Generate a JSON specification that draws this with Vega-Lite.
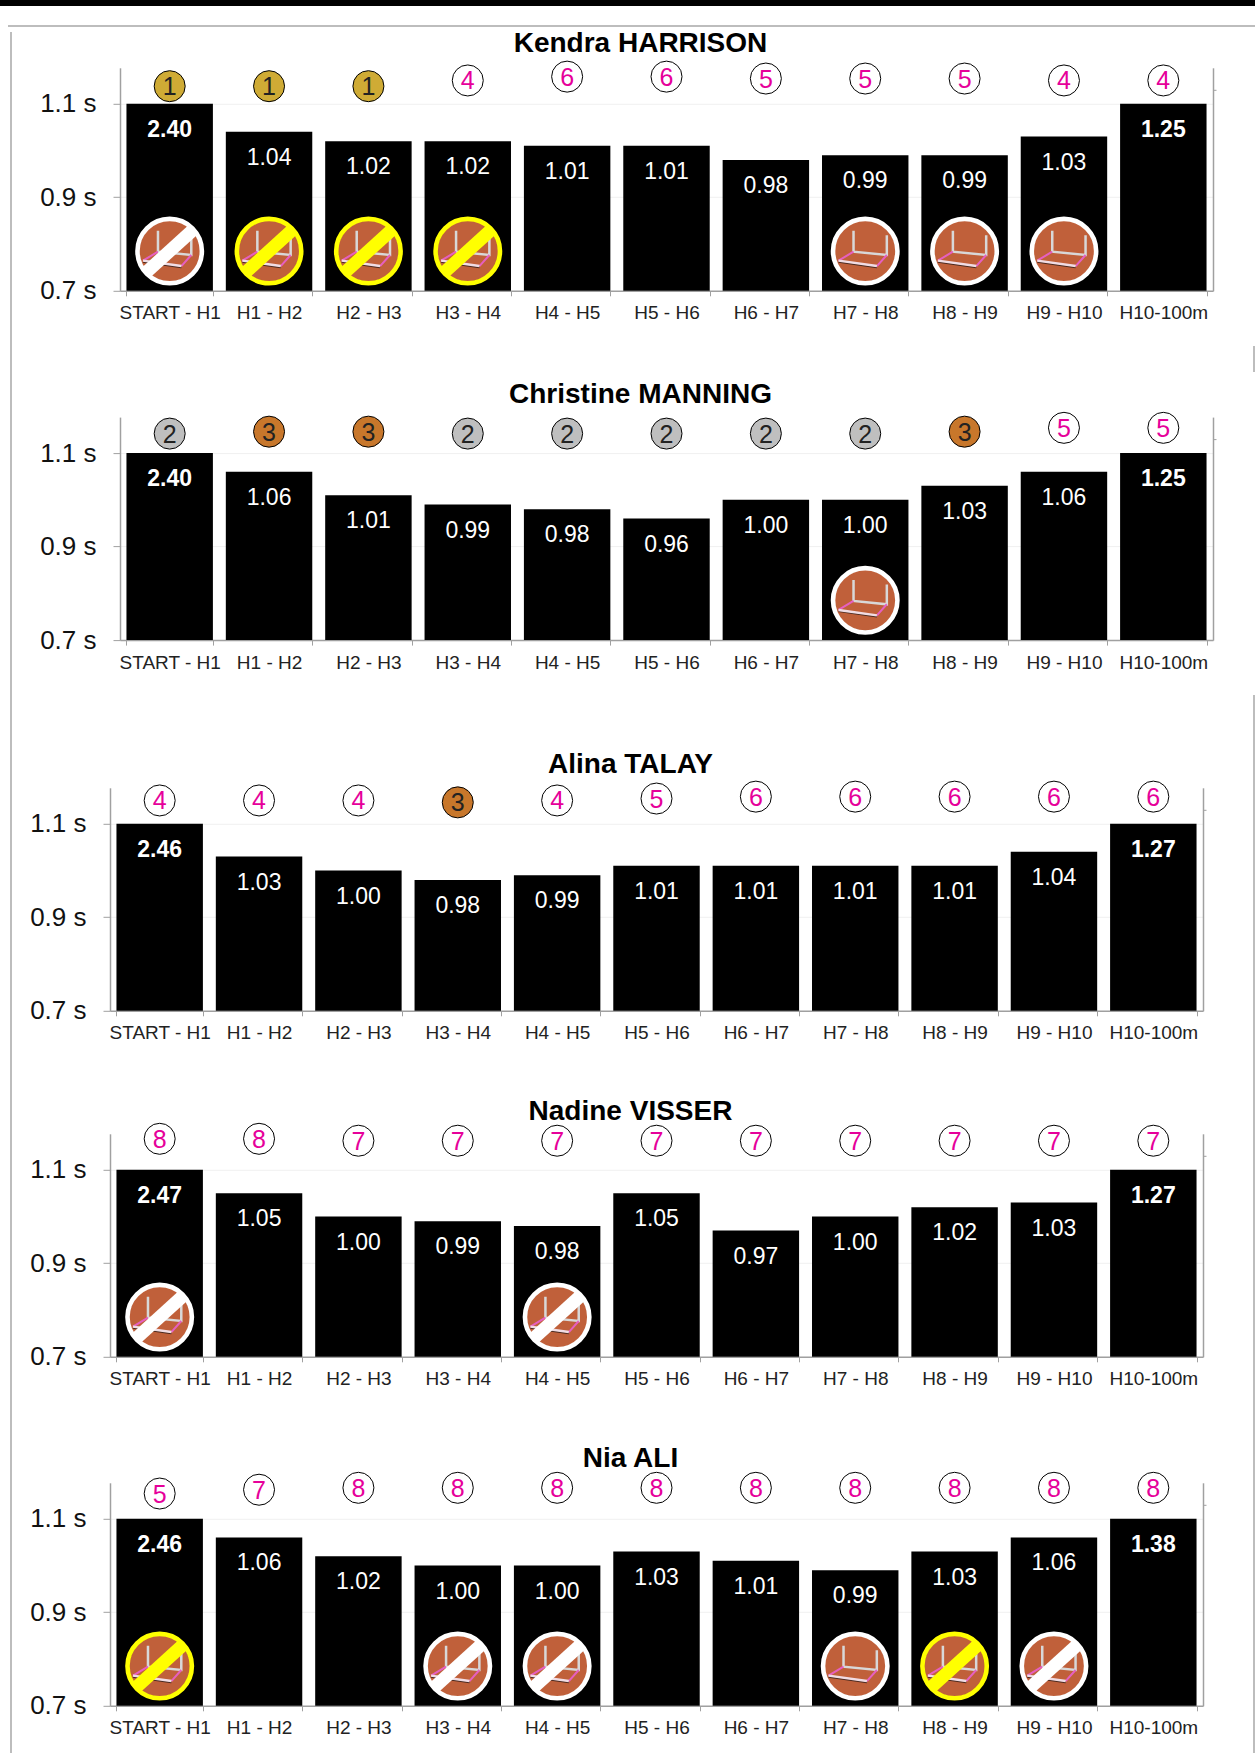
{"$schema":"https://vega.github.io/schema/vega-lite/v6.json","padding":0,"background":"white","config":{"view":{"stroke":null},"font":"Liberation Sans"},"datasets":{"rows":[
{"a":"K","seg":"START - H1","time":2.40,"shown":1.1,"rank":1,"hurdle":"white"},{"a":"K","seg":"H1 - H2","time":1.04,"shown":1.04,"rank":1,"hurdle":"yellow"},{"a":"K","seg":"H2 - H3","time":1.02,"shown":1.02,"rank":1,"hurdle":"yellow"},{"a":"K","seg":"H3 - H4","time":1.02,"shown":1.02,"rank":4,"hurdle":"yellow"},{"a":"K","seg":"H4 - H5","time":1.01,"shown":1.01,"rank":6,"hurdle":""},{"a":"K","seg":"H5 - H6","time":1.01,"shown":1.01,"rank":6,"hurdle":""},{"a":"K","seg":"H6 - H7","time":0.98,"shown":0.98,"rank":5,"hurdle":""},{"a":"K","seg":"H7 - H8","time":0.99,"shown":0.99,"rank":5,"hurdle":"plain"},{"a":"K","seg":"H8 - H9","time":0.99,"shown":0.99,"rank":5,"hurdle":"plain"},{"a":"K","seg":"H9 - H10","time":1.03,"shown":1.03,"rank":4,"hurdle":"plain"},{"a":"K","seg":"H10-100m","time":1.25,"shown":1.1,"rank":4,"hurdle":""},
{"a":"C","seg":"START - H1","time":2.40,"shown":1.1,"rank":2,"hurdle":""},{"a":"C","seg":"H1 - H2","time":1.06,"shown":1.06,"rank":3,"hurdle":""},{"a":"C","seg":"H2 - H3","time":1.01,"shown":1.01,"rank":3,"hurdle":""},{"a":"C","seg":"H3 - H4","time":0.99,"shown":0.99,"rank":2,"hurdle":""},{"a":"C","seg":"H4 - H5","time":0.98,"shown":0.98,"rank":2,"hurdle":""},{"a":"C","seg":"H5 - H6","time":0.96,"shown":0.96,"rank":2,"hurdle":""},{"a":"C","seg":"H6 - H7","time":1.00,"shown":1.00,"rank":2,"hurdle":""},{"a":"C","seg":"H7 - H8","time":1.00,"shown":1.00,"rank":2,"hurdle":"plain"},{"a":"C","seg":"H8 - H9","time":1.03,"shown":1.03,"rank":3,"hurdle":""},{"a":"C","seg":"H9 - H10","time":1.06,"shown":1.06,"rank":5,"hurdle":""},{"a":"C","seg":"H10-100m","time":1.25,"shown":1.1,"rank":5,"hurdle":""},
{"a":"A","seg":"START - H1","time":2.46,"shown":1.1,"rank":4,"hurdle":""},{"a":"A","seg":"H1 - H2","time":1.03,"shown":1.03,"rank":4,"hurdle":""},{"a":"A","seg":"H2 - H3","time":1.00,"shown":1.00,"rank":4,"hurdle":""},{"a":"A","seg":"H3 - H4","time":0.98,"shown":0.98,"rank":3,"hurdle":""},{"a":"A","seg":"H4 - H5","time":0.99,"shown":0.99,"rank":4,"hurdle":""},{"a":"A","seg":"H5 - H6","time":1.01,"shown":1.01,"rank":5,"hurdle":""},{"a":"A","seg":"H6 - H7","time":1.01,"shown":1.01,"rank":6,"hurdle":""},{"a":"A","seg":"H7 - H8","time":1.01,"shown":1.01,"rank":6,"hurdle":""},{"a":"A","seg":"H8 - H9","time":1.01,"shown":1.01,"rank":6,"hurdle":""},{"a":"A","seg":"H9 - H10","time":1.04,"shown":1.04,"rank":6,"hurdle":""},{"a":"A","seg":"H10-100m","time":1.27,"shown":1.1,"rank":6,"hurdle":""},
{"a":"V","seg":"START - H1","time":2.47,"shown":1.1,"rank":8,"hurdle":"white"},{"a":"V","seg":"H1 - H2","time":1.05,"shown":1.05,"rank":8,"hurdle":""},{"a":"V","seg":"H2 - H3","time":1.00,"shown":1.00,"rank":7,"hurdle":""},{"a":"V","seg":"H3 - H4","time":0.99,"shown":0.99,"rank":7,"hurdle":""},{"a":"V","seg":"H4 - H5","time":0.98,"shown":0.98,"rank":7,"hurdle":"white"},{"a":"V","seg":"H5 - H6","time":1.05,"shown":1.05,"rank":7,"hurdle":""},{"a":"V","seg":"H6 - H7","time":0.97,"shown":0.97,"rank":7,"hurdle":""},{"a":"V","seg":"H7 - H8","time":1.00,"shown":1.00,"rank":7,"hurdle":""},{"a":"V","seg":"H8 - H9","time":1.02,"shown":1.02,"rank":7,"hurdle":""},{"a":"V","seg":"H9 - H10","time":1.03,"shown":1.03,"rank":7,"hurdle":""},{"a":"V","seg":"H10-100m","time":1.27,"shown":1.1,"rank":7,"hurdle":""},
{"a":"N","seg":"START - H1","time":2.46,"shown":1.1,"rank":5,"hurdle":"yellow"},{"a":"N","seg":"H1 - H2","time":1.06,"shown":1.06,"rank":7,"hurdle":""},{"a":"N","seg":"H2 - H3","time":1.02,"shown":1.02,"rank":8,"hurdle":""},{"a":"N","seg":"H3 - H4","time":1.00,"shown":1.00,"rank":8,"hurdle":"white"},{"a":"N","seg":"H4 - H5","time":1.00,"shown":1.00,"rank":8,"hurdle":"white"},{"a":"N","seg":"H5 - H6","time":1.03,"shown":1.03,"rank":8,"hurdle":""},{"a":"N","seg":"H6 - H7","time":1.01,"shown":1.01,"rank":8,"hurdle":""},{"a":"N","seg":"H7 - H8","time":0.99,"shown":0.99,"rank":8,"hurdle":"plain"},{"a":"N","seg":"H8 - H9","time":1.03,"shown":1.03,"rank":8,"hurdle":"yellow"},{"a":"N","seg":"H9 - H10","time":1.06,"shown":1.06,"rank":8,"hurdle":"white"},{"a":"N","seg":"H10-100m","time":1.38,"shown":1.1,"rank":8,"hurdle":""}
]},
"data":{"name":"rows"},
"spacing":0,
"vconcat":[
{"width":1255,"height":6,"view":{"fill":"#000"},"data":{"values":[{}]},"mark":{"type":"point","opacity":0},"encoding":{}},
{"width":1255,"height":16,"data":{"values":[{}]},"mark":{"type":"point","opacity":0},"encoding":{}},
{"spacing":0,"hconcat":[
{"width":8,"height":1,"data":{"values":[{}]},"mark":{"type":"point","opacity":0},"encoding":{}},
{"width":1247,"height":2,"view":{"fill":"#bdbdbd"},"data":{"values":[{}]},"mark":{"type":"point","opacity":0},"encoding":{}}
]},
{"spacing":0,"hconcat":[
{"width":8,"height":1,"data":{"values":[{}]},"mark":{"type":"point","opacity":0},"encoding":{}},
{"width":2,"height":1731,"view":{"fill":"#bdbdbd"},"data":{"values":[{}]},"mark":{"type":"point","opacity":0},"encoding":{}},
{"spacing":-6.2,"vconcat":[
{"width":10,"height":2,"data":{"values":[{}]},"mark":{"type":"point","opacity":0},"encoding":{}},
{"spacing":78,"vconcat":[
{"spacing":0,"hconcat":[
{"width":25,"height":1,"data":{"values":[{}]},"mark":{"type":"point","opacity":0},"encoding":{}},
{"spacing":57.3,"vconcat":[
{"title":{"text":"Kendra HARRISON","fontSize":28,"fontWeight":"bold","anchor":"middle","dx":-26,"offset":0.7,"color":"#000"},"width":1093,"height":223,"transform":[{"filter":"datum.a=='K'"}],"encoding":{"x":{"field":"seg","type":"nominal","title":null,"scale":{"domain":["START - H1","H1 - H2","H2 - H3","H3 - H4","H4 - H5","H5 - H6","H6 - H7","H7 - H8","H8 - H9","H9 - H10","H10-100m"],"paddingInner":0.13,"paddingOuter":0.065},"axis":{"labelAngle":0,"labelFontSize":19,"labelColor":"#222","labelOverlap":false,"labelLimit":0,"labelPadding":8,"tickSize":5,"tickBand":"extent","tickColor":"#a0a0a0","domainColor":"#a0a0a0","domainWidth":1.5,"grid":false}}},"layer":[{"layer":[{"mark":{"type":"bar","color":"#000"},"encoding":{"y":{"field":"shown","type":"quantitative","title":null,"scale":{"domain":[0.7,1.177],"nice":false,"zero":false},"axis":{"values":[0.7,0.9,1.1],"labelExpr":"format(datum.value,'.1f')+' s'","labelFontSize":26,"labelColor":"#111","labelPadding":17,"tickSize":7,"tickColor":"#a0a0a0","domainColor":"#a0a0a0","domainWidth":1.5,"grid":true,"gridColor":"#f0f0f0"}},"y2":{"datum":0.7}}},{"transform":[{"filter":"datum.seg=='START - H1'||datum.seg=='H10-100m'"}],"mark":{"type":"text","color":"#fff","fontSize":23,"fontWeight":"bold","dy":26},"encoding":{"y":{"field":"shown","type":"quantitative"},"text":{"field":"time","format":".2f"}}},{"transform":[{"filter":"datum.seg!='START - H1'&&datum.seg!='H10-100m'"}],"mark":{"type":"text","color":"#fff","fontSize":23,"dy":26},"encoding":{"y":{"field":"shown","type":"quantitative"},"text":{"field":"time","format":".2f"}}},{"transform":[{"filter":"datum.hurdle"}],"encoding":{"y":{"datum":0.785,"type":"quantitative"}},"layer":[{"mark":{"type":"point","shape":"circle","filled":true,"color":"#C0603A","opacity":1,"size":3721}},{"mark":{"type":"point","shape":"circle","filled":false,"strokeWidth":4.6,"opacity":1,"size":4147},"encoding":{"stroke":{"field":"hurdle","type":"nominal","legend":null,"scale":{"domain":["plain","white","yellow"],"range":["#ffffff","#ffffff","#ffff00"]}}}},{"mark":{"type":"point","shape":"M-.39,-.68L-.39,.02L.72,.13L.72,-.53","filled":false,"stroke":"#d8d8d8","strokeWidth":2.5,"opacity":1,"size":3600}},{"mark":{"type":"point","shape":"M-.89,.365L.39,.545","filled":false,"stroke":"#4a2a20","strokeWidth":1.5,"opacity":1,"size":3600}},{"mark":{"type":"point","shape":"M-.39,.02L-.89,.32M.72,.13L.39,.5","filled":false,"stroke":"#e65fc0","strokeWidth":2,"opacity":1,"size":3600}},{"mark":{"type":"point","shape":"M-.89,.32L.39,.5","filled":false,"stroke":"#f0dce4","strokeWidth":2.4,"opacity":1,"size":3600}},{"transform":[{"filter":"datum.hurdle!='plain'"}],"mark":{"type":"point","shape":"M-.76,.69L.76,-.69","filled":false,"strokeWidth":13,"opacity":1,"size":3600},"encoding":{"stroke":{"field":"hurdle","type":"nominal","legend":null}}}]}]},{"encoding":{"y":{"field":"rank","type":"quantitative","axis":null,"scale":{"domain":[1,8],"range":[18.4,5]}}},"layer":[{"mark":{"type":"point","shape":"circle","filled":true,"stroke":"#000","strokeWidth":1,"opacity":1,"size":961},"encoding":{"fill":{"field":"rank","type":"nominal","legend":null,"scale":{"domain":[1,2,3,4,5,6,7,8],"range":["#CFAB35","#BFBFBF","#C8772B","#ffffff","#ffffff","#ffffff","#ffffff","#ffffff"]}}}},{"mark":{"type":"text","fontSize":25,"dy":1},"encoding":{"text":{"field":"rank"},"color":{"field":"rank","type":"nominal","legend":null,"scale":{"domain":[1,2,3,4,5,6,7,8],"range":["#222222","#222222","#222222","#E6009A","#E6009A","#E6009A","#E6009A","#E6009A"]}}}}]},{"mark":{"type":"point","opacity":0},"encoding":{"y":{"datum":1.13,"type":"quantitative","title":null,"scale":{"domain":[0.7,1.177],"nice":false,"zero":false},"axis":{"orient":"right","values":[1.13],"labels":false,"grid":false,"tickSize":3,"tickColor":"#a0a0a0","domainColor":"#a0a0a0","domainWidth":1.5}}}}],"resolve":{"scale":{"y":"independent"}}},
{"title":{"text":"Christine MANNING","fontSize":28,"fontWeight":"bold","anchor":"middle","dx":-26,"offset":1.8,"color":"#000"},"width":1093,"height":223,"transform":[{"filter":"datum.a=='C'"}],"encoding":{"x":{"field":"seg","type":"nominal","title":null,"scale":{"domain":["START - H1","H1 - H2","H2 - H3","H3 - H4","H4 - H5","H5 - H6","H6 - H7","H7 - H8","H8 - H9","H9 - H10","H10-100m"],"paddingInner":0.13,"paddingOuter":0.065},"axis":{"labelAngle":0,"labelFontSize":19,"labelColor":"#222","labelOverlap":false,"labelLimit":0,"labelPadding":8,"tickSize":5,"tickBand":"extent","tickColor":"#a0a0a0","domainColor":"#a0a0a0","domainWidth":1.5,"grid":false}}},"layer":[{"layer":[{"mark":{"type":"bar","color":"#000"},"encoding":{"y":{"field":"shown","type":"quantitative","title":null,"scale":{"domain":[0.7,1.177],"nice":false,"zero":false},"axis":{"values":[0.7,0.9,1.1],"labelExpr":"format(datum.value,'.1f')+' s'","labelFontSize":26,"labelColor":"#111","labelPadding":17,"tickSize":7,"tickColor":"#a0a0a0","domainColor":"#a0a0a0","domainWidth":1.5,"grid":true,"gridColor":"#f0f0f0"}},"y2":{"datum":0.7}}},{"transform":[{"filter":"datum.seg=='START - H1'||datum.seg=='H10-100m'"}],"mark":{"type":"text","color":"#fff","fontSize":23,"fontWeight":"bold","dy":26},"encoding":{"y":{"field":"shown","type":"quantitative"},"text":{"field":"time","format":".2f"}}},{"transform":[{"filter":"datum.seg!='START - H1'&&datum.seg!='H10-100m'"}],"mark":{"type":"text","color":"#fff","fontSize":23,"dy":26},"encoding":{"y":{"field":"shown","type":"quantitative"},"text":{"field":"time","format":".2f"}}},{"transform":[{"filter":"datum.hurdle"}],"encoding":{"y":{"datum":0.785,"type":"quantitative"}},"layer":[{"mark":{"type":"point","shape":"circle","filled":true,"color":"#C0603A","opacity":1,"size":3721}},{"mark":{"type":"point","shape":"circle","filled":false,"strokeWidth":4.6,"opacity":1,"size":4147},"encoding":{"stroke":{"field":"hurdle","type":"nominal","legend":null,"scale":{"domain":["plain","white","yellow"],"range":["#ffffff","#ffffff","#ffff00"]}}}},{"mark":{"type":"point","shape":"M-.39,-.68L-.39,.02L.72,.13L.72,-.53","filled":false,"stroke":"#d8d8d8","strokeWidth":2.5,"opacity":1,"size":3600}},{"mark":{"type":"point","shape":"M-.89,.365L.39,.545","filled":false,"stroke":"#4a2a20","strokeWidth":1.5,"opacity":1,"size":3600}},{"mark":{"type":"point","shape":"M-.39,.02L-.89,.32M.72,.13L.39,.5","filled":false,"stroke":"#e65fc0","strokeWidth":2,"opacity":1,"size":3600}},{"mark":{"type":"point","shape":"M-.89,.32L.39,.5","filled":false,"stroke":"#f0dce4","strokeWidth":2.4,"opacity":1,"size":3600}},{"transform":[{"filter":"datum.hurdle!='plain'"}],"mark":{"type":"point","shape":"M-.76,.69L.76,-.69","filled":false,"strokeWidth":13,"opacity":1,"size":3600},"encoding":{"stroke":{"field":"hurdle","type":"nominal","legend":null}}}]}]},{"encoding":{"y":{"field":"rank","type":"quantitative","axis":null,"scale":{"domain":[1,8],"range":[18.4,5]}}},"layer":[{"mark":{"type":"point","shape":"circle","filled":true,"stroke":"#000","strokeWidth":1,"opacity":1,"size":961},"encoding":{"fill":{"field":"rank","type":"nominal","legend":null,"scale":{"domain":[1,2,3,4,5,6,7,8],"range":["#CFAB35","#BFBFBF","#C8772B","#ffffff","#ffffff","#ffffff","#ffffff","#ffffff"]}}}},{"mark":{"type":"text","fontSize":25,"dy":1},"encoding":{"text":{"field":"rank"},"color":{"field":"rank","type":"nominal","legend":null,"scale":{"domain":[1,2,3,4,5,6,7,8],"range":["#222222","#222222","#222222","#E6009A","#E6009A","#E6009A","#E6009A","#E6009A"]}}}}]},{"mark":{"type":"point","opacity":0},"encoding":{"y":{"datum":1.13,"type":"quantitative","title":null,"scale":{"domain":[0.7,1.177],"nice":false,"zero":false},"axis":{"orient":"right","values":[1.13],"labels":false,"grid":false,"tickSize":3,"tickColor":"#a0a0a0","domainColor":"#a0a0a0","domainWidth":1.5}}}}],"resolve":{"scale":{"y":"independent"}}}
]}
]},
{"spacing":0,"hconcat":[
{"width":14.5,"height":1,"data":{"values":[{}]},"mark":{"type":"point","opacity":0},"encoding":{}},
{"spacing":55,"vconcat":[
{"title":{"text":"Alina TALAY","fontSize":28,"fontWeight":"bold","anchor":"middle","dx":-26,"offset":-0.2,"color":"#000"},"width":1093,"height":223,"transform":[{"filter":"datum.a=='A'"}],"encoding":{"x":{"field":"seg","type":"nominal","title":null,"scale":{"domain":["START - H1","H1 - H2","H2 - H3","H3 - H4","H4 - H5","H5 - H6","H6 - H7","H7 - H8","H8 - H9","H9 - H10","H10-100m"],"paddingInner":0.13,"paddingOuter":0.065},"axis":{"labelAngle":0,"labelFontSize":19,"labelColor":"#222","labelOverlap":false,"labelLimit":0,"labelPadding":8,"tickSize":5,"tickBand":"extent","tickColor":"#a0a0a0","domainColor":"#a0a0a0","domainWidth":1.5,"grid":false}}},"layer":[{"layer":[{"mark":{"type":"bar","color":"#000"},"encoding":{"y":{"field":"shown","type":"quantitative","title":null,"scale":{"domain":[0.7,1.177],"nice":false,"zero":false},"axis":{"values":[0.7,0.9,1.1],"labelExpr":"format(datum.value,'.1f')+' s'","labelFontSize":26,"labelColor":"#111","labelPadding":17,"tickSize":7,"tickColor":"#a0a0a0","domainColor":"#a0a0a0","domainWidth":1.5,"grid":true,"gridColor":"#f0f0f0"}},"y2":{"datum":0.7}}},{"transform":[{"filter":"datum.seg=='START - H1'||datum.seg=='H10-100m'"}],"mark":{"type":"text","color":"#fff","fontSize":23,"fontWeight":"bold","dy":26},"encoding":{"y":{"field":"shown","type":"quantitative"},"text":{"field":"time","format":".2f"}}},{"transform":[{"filter":"datum.seg!='START - H1'&&datum.seg!='H10-100m'"}],"mark":{"type":"text","color":"#fff","fontSize":23,"dy":26},"encoding":{"y":{"field":"shown","type":"quantitative"},"text":{"field":"time","format":".2f"}}}]},{"encoding":{"y":{"field":"rank","type":"quantitative","axis":null,"scale":{"domain":[1,8],"range":[18.4,5]}}},"layer":[{"mark":{"type":"point","shape":"circle","filled":true,"stroke":"#000","strokeWidth":1,"opacity":1,"size":961},"encoding":{"fill":{"field":"rank","type":"nominal","legend":null,"scale":{"domain":[1,2,3,4,5,6,7,8],"range":["#CFAB35","#BFBFBF","#C8772B","#ffffff","#ffffff","#ffffff","#ffffff","#ffffff"]}}}},{"mark":{"type":"text","fontSize":25,"dy":1},"encoding":{"text":{"field":"rank"},"color":{"field":"rank","type":"nominal","legend":null,"scale":{"domain":[1,2,3,4,5,6,7,8],"range":["#222222","#222222","#222222","#E6009A","#E6009A","#E6009A","#E6009A","#E6009A"]}}}}]},{"mark":{"type":"point","opacity":0},"encoding":{"y":{"datum":1.13,"type":"quantitative","title":null,"scale":{"domain":[0.7,1.177],"nice":false,"zero":false},"axis":{"orient":"right","values":[1.13],"labels":false,"grid":false,"tickSize":3,"tickColor":"#a0a0a0","domainColor":"#a0a0a0","domainWidth":1.5}}}}],"resolve":{"scale":{"y":"independent"}}},
{"title":{"text":"Nadine VISSER","fontSize":28,"fontWeight":"bold","anchor":"middle","dx":-26,"offset":-4.8,"color":"#000"},"width":1093,"height":223,"transform":[{"filter":"datum.a=='V'"}],"encoding":{"x":{"field":"seg","type":"nominal","title":null,"scale":{"domain":["START - H1","H1 - H2","H2 - H3","H3 - H4","H4 - H5","H5 - H6","H6 - H7","H7 - H8","H8 - H9","H9 - H10","H10-100m"],"paddingInner":0.13,"paddingOuter":0.065},"axis":{"labelAngle":0,"labelFontSize":19,"labelColor":"#222","labelOverlap":false,"labelLimit":0,"labelPadding":8,"tickSize":5,"tickBand":"extent","tickColor":"#a0a0a0","domainColor":"#a0a0a0","domainWidth":1.5,"grid":false}}},"layer":[{"layer":[{"mark":{"type":"bar","color":"#000"},"encoding":{"y":{"field":"shown","type":"quantitative","title":null,"scale":{"domain":[0.7,1.177],"nice":false,"zero":false},"axis":{"values":[0.7,0.9,1.1],"labelExpr":"format(datum.value,'.1f')+' s'","labelFontSize":26,"labelColor":"#111","labelPadding":17,"tickSize":7,"tickColor":"#a0a0a0","domainColor":"#a0a0a0","domainWidth":1.5,"grid":true,"gridColor":"#f0f0f0"}},"y2":{"datum":0.7}}},{"transform":[{"filter":"datum.seg=='START - H1'||datum.seg=='H10-100m'"}],"mark":{"type":"text","color":"#fff","fontSize":23,"fontWeight":"bold","dy":26},"encoding":{"y":{"field":"shown","type":"quantitative"},"text":{"field":"time","format":".2f"}}},{"transform":[{"filter":"datum.seg!='START - H1'&&datum.seg!='H10-100m'"}],"mark":{"type":"text","color":"#fff","fontSize":23,"dy":26},"encoding":{"y":{"field":"shown","type":"quantitative"},"text":{"field":"time","format":".2f"}}},{"transform":[{"filter":"datum.hurdle"}],"encoding":{"y":{"datum":0.785,"type":"quantitative"}},"layer":[{"mark":{"type":"point","shape":"circle","filled":true,"color":"#C0603A","opacity":1,"size":3721}},{"mark":{"type":"point","shape":"circle","filled":false,"strokeWidth":4.6,"opacity":1,"size":4147},"encoding":{"stroke":{"field":"hurdle","type":"nominal","legend":null,"scale":{"domain":["plain","white","yellow"],"range":["#ffffff","#ffffff","#ffff00"]}}}},{"mark":{"type":"point","shape":"M-.39,-.68L-.39,.02L.72,.13L.72,-.53","filled":false,"stroke":"#d8d8d8","strokeWidth":2.5,"opacity":1,"size":3600}},{"mark":{"type":"point","shape":"M-.89,.365L.39,.545","filled":false,"stroke":"#4a2a20","strokeWidth":1.5,"opacity":1,"size":3600}},{"mark":{"type":"point","shape":"M-.39,.02L-.89,.32M.72,.13L.39,.5","filled":false,"stroke":"#e65fc0","strokeWidth":2,"opacity":1,"size":3600}},{"mark":{"type":"point","shape":"M-.89,.32L.39,.5","filled":false,"stroke":"#f0dce4","strokeWidth":2.4,"opacity":1,"size":3600}},{"transform":[{"filter":"datum.hurdle!='plain'"}],"mark":{"type":"point","shape":"M-.76,.69L.76,-.69","filled":false,"strokeWidth":13,"opacity":1,"size":3600},"encoding":{"stroke":{"field":"hurdle","type":"nominal","legend":null}}}]}]},{"encoding":{"y":{"field":"rank","type":"quantitative","axis":null,"scale":{"domain":[1,8],"range":[18.4,5]}}},"layer":[{"mark":{"type":"point","shape":"circle","filled":true,"stroke":"#000","strokeWidth":1,"opacity":1,"size":961},"encoding":{"fill":{"field":"rank","type":"nominal","legend":null,"scale":{"domain":[1,2,3,4,5,6,7,8],"range":["#CFAB35","#BFBFBF","#C8772B","#ffffff","#ffffff","#ffffff","#ffffff","#ffffff"]}}}},{"mark":{"type":"text","fontSize":25,"dy":1},"encoding":{"text":{"field":"rank"},"color":{"field":"rank","type":"nominal","legend":null,"scale":{"domain":[1,2,3,4,5,6,7,8],"range":["#222222","#222222","#222222","#E6009A","#E6009A","#E6009A","#E6009A","#E6009A"]}}}}]},{"mark":{"type":"point","opacity":0},"encoding":{"y":{"datum":1.13,"type":"quantitative","title":null,"scale":{"domain":[0.7,1.177],"nice":false,"zero":false},"axis":{"orient":"right","values":[1.13],"labels":false,"grid":false,"tickSize":3,"tickColor":"#a0a0a0","domainColor":"#a0a0a0","domainWidth":1.5}}}}],"resolve":{"scale":{"y":"independent"}}},
{"title":{"text":"Nia ALI","fontSize":28,"fontWeight":"bold","anchor":"middle","dx":-26,"offset":-2.2,"color":"#000"},"width":1093,"height":223,"transform":[{"filter":"datum.a=='N'"}],"encoding":{"x":{"field":"seg","type":"nominal","title":null,"scale":{"domain":["START - H1","H1 - H2","H2 - H3","H3 - H4","H4 - H5","H5 - H6","H6 - H7","H7 - H8","H8 - H9","H9 - H10","H10-100m"],"paddingInner":0.13,"paddingOuter":0.065},"axis":{"labelAngle":0,"labelFontSize":19,"labelColor":"#222","labelOverlap":false,"labelLimit":0,"labelPadding":8,"tickSize":5,"tickBand":"extent","tickColor":"#a0a0a0","domainColor":"#a0a0a0","domainWidth":1.5,"grid":false}}},"layer":[{"layer":[{"mark":{"type":"bar","color":"#000"},"encoding":{"y":{"field":"shown","type":"quantitative","title":null,"scale":{"domain":[0.7,1.177],"nice":false,"zero":false},"axis":{"values":[0.7,0.9,1.1],"labelExpr":"format(datum.value,'.1f')+' s'","labelFontSize":26,"labelColor":"#111","labelPadding":17,"tickSize":7,"tickColor":"#a0a0a0","domainColor":"#a0a0a0","domainWidth":1.5,"grid":true,"gridColor":"#f0f0f0"}},"y2":{"datum":0.7}}},{"transform":[{"filter":"datum.seg=='START - H1'||datum.seg=='H10-100m'"}],"mark":{"type":"text","color":"#fff","fontSize":23,"fontWeight":"bold","dy":26},"encoding":{"y":{"field":"shown","type":"quantitative"},"text":{"field":"time","format":".2f"}}},{"transform":[{"filter":"datum.seg!='START - H1'&&datum.seg!='H10-100m'"}],"mark":{"type":"text","color":"#fff","fontSize":23,"dy":26},"encoding":{"y":{"field":"shown","type":"quantitative"},"text":{"field":"time","format":".2f"}}},{"transform":[{"filter":"datum.hurdle"}],"encoding":{"y":{"datum":0.785,"type":"quantitative"}},"layer":[{"mark":{"type":"point","shape":"circle","filled":true,"color":"#C0603A","opacity":1,"size":3721}},{"mark":{"type":"point","shape":"circle","filled":false,"strokeWidth":4.6,"opacity":1,"size":4147},"encoding":{"stroke":{"field":"hurdle","type":"nominal","legend":null,"scale":{"domain":["plain","white","yellow"],"range":["#ffffff","#ffffff","#ffff00"]}}}},{"mark":{"type":"point","shape":"M-.39,-.68L-.39,.02L.72,.13L.72,-.53","filled":false,"stroke":"#d8d8d8","strokeWidth":2.5,"opacity":1,"size":3600}},{"mark":{"type":"point","shape":"M-.89,.365L.39,.545","filled":false,"stroke":"#4a2a20","strokeWidth":1.5,"opacity":1,"size":3600}},{"mark":{"type":"point","shape":"M-.39,.02L-.89,.32M.72,.13L.39,.5","filled":false,"stroke":"#e65fc0","strokeWidth":2,"opacity":1,"size":3600}},{"mark":{"type":"point","shape":"M-.89,.32L.39,.5","filled":false,"stroke":"#f0dce4","strokeWidth":2.4,"opacity":1,"size":3600}},{"transform":[{"filter":"datum.hurdle!='plain'"}],"mark":{"type":"point","shape":"M-.76,.69L.76,-.69","filled":false,"strokeWidth":13,"opacity":1,"size":3600},"encoding":{"stroke":{"field":"hurdle","type":"nominal","legend":null}}}]}]},{"encoding":{"y":{"field":"rank","type":"quantitative","axis":null,"scale":{"domain":[1,8],"range":[18.4,5]}}},"layer":[{"mark":{"type":"point","shape":"circle","filled":true,"stroke":"#000","strokeWidth":1,"opacity":1,"size":961},"encoding":{"fill":{"field":"rank","type":"nominal","legend":null,"scale":{"domain":[1,2,3,4,5,6,7,8],"range":["#CFAB35","#BFBFBF","#C8772B","#ffffff","#ffffff","#ffffff","#ffffff","#ffffff"]}}}},{"mark":{"type":"text","fontSize":25,"dy":1},"encoding":{"text":{"field":"rank"},"color":{"field":"rank","type":"nominal","legend":null,"scale":{"domain":[1,2,3,4,5,6,7,8],"range":["#222222","#222222","#222222","#E6009A","#E6009A","#E6009A","#E6009A","#E6009A"]}}}}]},{"mark":{"type":"point","opacity":0},"encoding":{"y":{"datum":1.13,"type":"quantitative","title":null,"scale":{"domain":[0.7,1.177],"nice":false,"zero":false},"axis":{"orient":"right","values":[1.13],"labels":false,"grid":false,"tickSize":3,"tickColor":"#a0a0a0","domainColor":"#a0a0a0","domainWidth":1.5}}}}],"resolve":{"scale":{"y":"independent"}}}
]}
]}
]}
]},
{"width":34,"height":1,"data":{"values":[{}]},"mark":{"type":"point","opacity":0},"encoding":{}},
{"spacing":0,"vconcat":[
{"width":2,"height":314,"data":{"values":[{}]},"mark":{"type":"point","opacity":0},"encoding":{}},
{"width":2,"height":26,"view":{"fill":"#bdbdbd"},"data":{"values":[{}]},"mark":{"type":"point","opacity":0},"encoding":{}},
{"width":2,"height":323,"data":{"values":[{}]},"mark":{"type":"point","opacity":0},"encoding":{}},
{"width":2,"height":1067,"view":{"fill":"#bdbdbd"},"data":{"values":[{}]},"mark":{"type":"point","opacity":0},"encoding":{}}
]}
]}
]}
